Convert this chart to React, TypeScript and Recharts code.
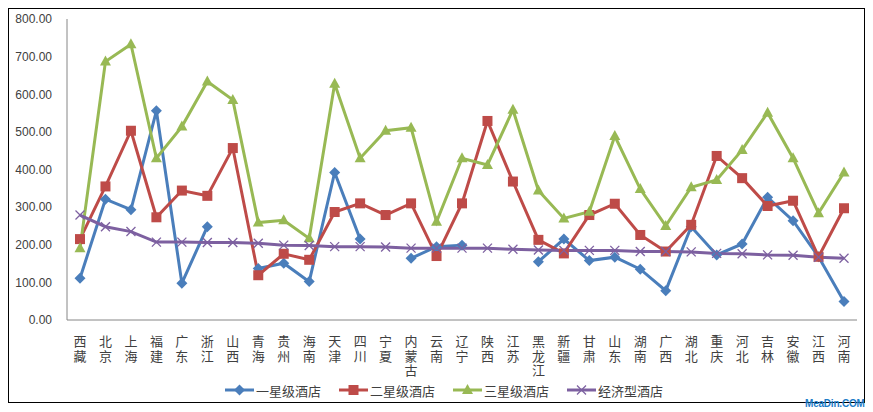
import React from "react";
import { LineChart, Line, XAxis, YAxis, Legend } from "recharts";

const provinces = [
  "西藏", "北京", "上海", "福建", "广东", "浙江", "山西", "青海", "贵州", "海南", "天津",
  "四川", "宁夏", "内蒙古", "云南", "辽宁", "陕西", "江苏", "黑龙江", "新疆", "甘肃",
  "山东", "湖南", "广西", "湖北", "重庆", "河北", "吉林", "安徽", "江西", "河南",
];

const oneStar = [
  111, 321, 293, 556, 98, 248, null, 137, 151, 102, 392, 215, null, 164, 195, 199,
  null, null, 155, 215, 158, 167, 135, 78, 248, 173, 202, 326, 264, 168, 49,
];
const twoStar = [
  215, 355, 503, 273, 344, 330, 457, 119, 176, 160, 287, 310, 279, 310, 170, 310,
  529, 368, 213, 177, 279, 309, 226, 182, 253, 436, 377, 303, 317, 168, 297,
];
const threeStar = [
  191, 687, 733, 430, 514, 634, 585, 259, 265, 217, 628, 430, 503, 511, 261, 430,
  412, 559, 344, 270, 288, 489, 348, 250, 353, 372, 452, 551, 430, 284, 392,
];
const budget = [
  279, 248, 235, 207, 207, 206, 206, 204, 199, 198, 195, 195, 194, 191, 191, 191,
  191, 188, 186, 185, 185, 185, 182, 182, 181, 177, 176, 173, 172, 167, 164,
];

const yTicks = [0, 100, 200, 300, 400, 500, 600, 700, 800];

const seriesNames = ["一星级酒店", "二星级酒店", "三星级酒店", "经济型酒店"];
const seriesKeys = ["one", "two", "three", "budget"];
const colors = ["#4A7EBB", "#BE4B48", "#98B954", "#7D60A0"];

const data = provinces.map((name, i) => ({
  name,
  one: oneStar[i],
  two: twoStar[i],
  three: threeStar[i],
  budget: budget[i],
}));

const CJK = "'Noto Sans CJK SC', 'Noto Sans', sans-serif";

function marker(kind: string, cx: number, cy: number, color: string, key?: string) {
  if (kind === "one") {
    return (
      <polygon key={key} points={`${cx},${cy - 5.5} ${cx + 5.5},${cy} ${cx},${cy + 5.5} ${cx - 5.5},${cy}`} fill={color} />
    );
  }
  if (kind === "two") {
    return <rect key={key} x={cx - 5} y={cy - 5} width={10} height={10} fill={color} />;
  }
  if (kind === "three") {
    return <polygon key={key} points={`${cx},${cy - 6} ${cx + 5.5},${cy + 4} ${cx - 5.5},${cy + 4}`} fill={color} />;
  }
  return (
    <g key={key} stroke={color} strokeWidth={1.3}>
      <line x1={cx - 4.5} y1={cy - 4.5} x2={cx + 4.5} y2={cy + 4.5} />
      <line x1={cx - 4.5} y1={cy + 4.5} x2={cx + 4.5} y2={cy - 4.5} />
    </g>
  );
}

const makeDot = (kind: string, color: string) => (props: any) => {
  const { cx, cy, index } = props;
  if (cx == null || cy == null || props.value == null) return <g key={`${kind}-${index}`} />;
  return marker(kind, cx, cy, color, `${kind}-${index}`);
};

// vertical label, one character per line
const ProvinceTick = ({ x, y, payload }: any) => (
  <text
    x={x}
    y={y + 13}
    fill="#404040"
    fontSize={13}
    fontFamily={CJK}
    style={{ writingMode: "vertical-rl", letterSpacing: 1.5 }}
  >
    {payload.value}
  </text>
);

const LegendBox = () => (
  <div style={{ display: "flex", paddingLeft: 216, height: 20, alignItems: "center" }}>
    {seriesKeys.map((k, i) => (
      <div key={k} style={{ display: "flex", alignItems: "center", width: i < 3 ? 114 : 110 }}>
        <svg width={29} height={14}>
          <line x1={0} y1={7} x2={29} y2={7} stroke={colors[i]} strokeWidth={3} />
          {marker(k, 14.5, 7, colors[i])}
        </svg>
        <span style={{ marginLeft: 2, fontSize: 13, color: "#404040", fontFamily: CJK }}>{seriesNames[i]}</span>
      </div>
    ))}
  </div>
);

export default function App() {
  return (
    <div style={{ position: "relative", width: 865, height: 404 }}>
      <div style={{ width: 855, height: 393, border: "1px solid #000", background: "#fff" }}>
        <LineChart width={855} height={393} data={data} margin={{ top: 10, right: 7, left: 0, bottom: 2 }}>
          <XAxis
            dataKey="name"
            interval={0}
            height={60}
            padding={{ left: 13, right: 13 }}
            stroke="#868686"
            tickLine={false}
            tickSize={0}
            tick={<ProvinceTick />}
          />
          <YAxis
            domain={[0, 800]}
            ticks={yTicks}
            width={58}
            stroke="#868686"
            tickLine={false}
            tickSize={0}
            tickMargin={15}
            tickFormatter={(v: number) => v.toFixed(2)}
            tick={{ fill: "#404040", fontSize: 12, fontFamily: "'Liberation Sans', Arial, sans-serif" }}
          />
          <Legend verticalAlign="bottom" wrapperStyle={{ left: 0, width: 855 }} content={() => <LegendBox />} />
          {seriesKeys.map((k, i) => (
            <Line
              key={k}
              dataKey={k}
              name={seriesNames[i]}
              stroke={colors[i]}
              strokeWidth={3}
              dot={makeDot(k, colors[i])}
              activeDot={false}
              connectNulls={false}
              isAnimationActive={false}
            />
          ))}
        </LineChart>
      </div>
      <div
        style={{
          position: "absolute",
          left: 797,
          top: 390,
          whiteSpace: "nowrap",
          fontFamily: "'Liberation Sans', Arial, sans-serif",
          fontWeight: "bold",
          fontSize: 10,
          color: "#1C7CC8",
          letterSpacing: -0.2,
        }}
      >
        MeaDin.COM
      </div>
    </div>
  );
}
